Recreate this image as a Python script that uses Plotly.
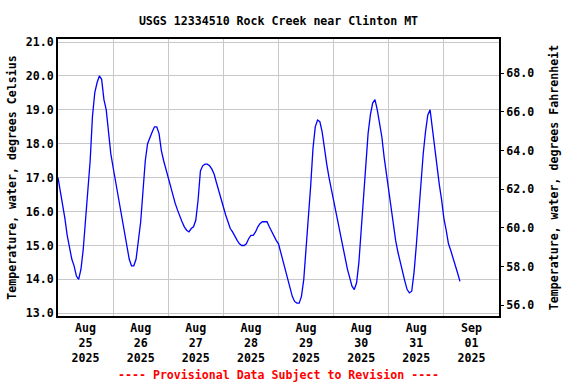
import pandas as pd
import plotly.graph_objects as go

# Hourly water temperature (deg C) starting 2025-08-25 00:00
temp_c = [
    17.0, 16.6, 16.3, 15.8, 15.3, 14.9, 14.6, 14.4, 14.1, 14.0,
    14.3, 14.9, 15.7, 16.7, 17.5, 18.8, 19.5, 19.8, 20.0, 19.9,
    19.3, 19.0, 18.4, 17.7, 17.3, 16.9, 16.55, 16.2, 15.8, 15.35,
    14.9, 14.6, 14.4, 14.4, 14.6, 15.1, 15.7, 16.6, 17.5, 18.0,
    18.2, 18.35, 18.5, 18.5, 18.3, 17.8, 17.5, 17.25, 17.0, 16.7,
    16.45, 16.25, 16.05, 15.85, 15.7, 15.55, 15.45, 15.4, 15.5, 15.55,
    15.75, 16.35, 17.2, 17.35, 17.4, 17.4, 17.35, 17.25, 17.1, 16.85,
    16.6, 16.35, 16.1, 15.9, 15.7, 15.5, 15.4, 15.25, 15.15, 15.05,
    15.0, 15.0, 15.05, 15.2, 15.3, 15.3, 15.4, 15.55, 15.65, 15.7,
    15.7, 15.7, 15.55, 15.4, 15.3, 15.15, 15.05, 14.8, 14.5, 14.25,
    14.0, 13.75, 13.5, 13.35, 13.3, 13.3, 13.5, 14.0, 14.85, 15.8,
    16.75, 17.85, 18.5, 18.7, 18.65, 18.35, 17.8, 17.4, 17.0, 16.65,
    16.3, 16.05, 15.7, 15.3, 14.95, 14.6, 14.3, 14.05, 13.8, 13.7,
    13.9, 14.5, 15.4, 16.25, 17.35, 18.3, 18.85, 19.2, 19.3, 19.0,
    18.6, 18.2, 17.6, 17.1, 16.7, 16.15, 15.6, 15.15, 14.8, 14.5,
    14.2, 13.95, 13.7, 13.6, 13.65, 14.2, 15.0, 15.9, 16.95, 17.7,
    18.35, 18.85, 19.0, 18.45, 17.8, 17.25, 16.8, 16.35, 15.8, 15.45,
    15.05, 14.85, 14.6, 14.4, 14.18, 13.94,
]
times = pd.date_range("2025-08-25 00:00", periods=len(temp_c), freq="h")

day_labels = ["Aug<br>25<br>2025", "Aug<br>26<br>2025", "Aug<br>27<br>2025",
              "Aug<br>28<br>2025", "Aug<br>29<br>2025", "Aug<br>30<br>2025",
              "Aug<br>31<br>2025", "Sep<br>01<br>2025"]
label_pos = pd.date_range("2025-08-25 12:00", periods=8, freq="D")
f_ticks = [56, 58, 60, 62, 64, 66, 68]

FONT = "DejaVu Sans Mono"
FS = 11.6
BF = dict(family=FONT, size=FS, color="black", weight="bold")

fig = go.Figure()
fig.add_trace(go.Scatter(x=times, y=temp_c, mode="lines",
                         line=dict(color="#0000FF", width=1.3),
                         showlegend=False, hoverinfo="skip"))
# invisible trace so the Fahrenheit axis is drawn
fig.add_trace(go.Scatter(x=[times[0]], y=[f_ticks[0]], yaxis="y2", mode="markers",
                         marker=dict(opacity=0), showlegend=False, hoverinfo="skip"))

fig.update_layout(
    width=576, height=384,
    margin=dict(l=58, r=77, t=39, b=68),
    paper_bgcolor="white", plot_bgcolor="white",
    font=BF,
    title=dict(text="USGS 12334510 Rock Creek near Clinton MT",
               x=(58 + 499) / 2 / 576, xanchor="center",
               y=1 - 20.5 / 384, yanchor="middle", font=BF),
    xaxis=dict(
        range=["2025-08-25 00:00", "2025-09-02 00:00"],
        tickmode="array", tickvals=list(label_pos), ticktext=day_labels,
        ticks="", showgrid=False, zeroline=False,
        showline=True, linecolor="black", linewidth=2, mirror=True,
        minor=dict(tick0="2025-08-25", dtick=86400000, showgrid=True,
                   gridcolor="#C8C8C8", gridwidth=1, ticks=""),
        tickfont=BF,
    ),
    yaxis=dict(
        range=[12.92, 21.09], tick0=13, dtick=1, tickformat=".1f",
        ticks="", showgrid=True, gridcolor="#C8C8C8", gridwidth=1,
        zeroline=False,
        showline=True, linecolor="black", linewidth=2, mirror=True,
        title=dict(text="Temperature, water, degrees Celsius", standoff=7, font=BF),
        tickfont=BF,
    ),
    yaxis2=dict(
        overlaying="y", side="right", anchor="x",
        range=[55.45, 69.77], tickmode="array", tickvals=f_ticks,
        tickformat=".1f", ticks="outside", ticklen=4, tickcolor="black",
        showgrid=False, zeroline=False, showline=False,
        title=dict(text="Temperature, water, degrees Fahrenheit", standoff=16, font=BF),
        tickfont=BF,
    ),
    annotations=[dict(
        text="---- Provisional Data Subject to Revision ----",
        xref="paper", yref="paper", x=0.5, y=-(375 - 316) / (316 - 39),
        xanchor="center", yanchor="middle", showarrow=False,
        font=dict(family=FONT, size=FS, color="#FF0000", weight="bold"),
    )],
)

fig.write_html("out.html", config={"displayModeBar": False},
               post_script="document.body.style.margin='0';document.body.style.padding='0';")
